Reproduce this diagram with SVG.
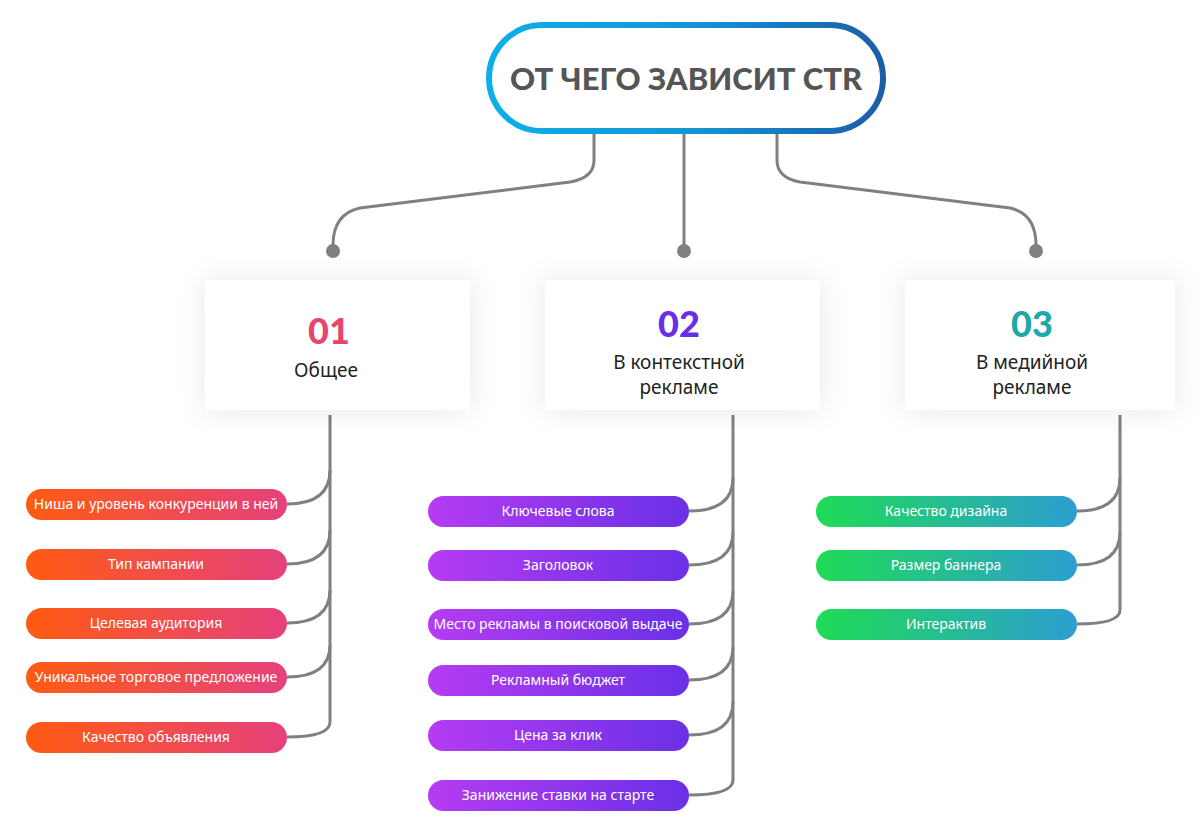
<svg xmlns="http://www.w3.org/2000/svg" width="1200" height="833" viewBox="0 0 1200 833">
<defs>
<linearGradient id="gTop" x1="0" y1="0" x2="1" y2="0"><stop offset="0" stop-color="#0BB0E6"/><stop offset="0.5" stop-color="#1596D6"/><stop offset="1" stop-color="#1B5EA8"/></linearGradient>
<linearGradient id="gO" x1="0" y1="0" x2="1" y2="0"><stop offset="0" stop-color="#FF5B12"/><stop offset="1" stop-color="#E5417D"/></linearGradient>
<linearGradient id="gP" x1="0" y1="0" x2="1" y2="0"><stop offset="0" stop-color="#B63CF2"/><stop offset="1" stop-color="#6A30E6"/></linearGradient>
<linearGradient id="gG" x1="0" y1="0" x2="1" y2="0"><stop offset="0" stop-color="#1FDB55"/><stop offset="1" stop-color="#2C9ED2"/></linearGradient>
<filter id="sh" x="-20%" y="-40%" width="140%" height="180%"><feDropShadow dx="0" dy="0" stdDeviation="14" flood-color="#000" flood-opacity="0.09"/></filter>
</defs>
<style>
.ln{fill:none;stroke:#808080;stroke-width:3}
.dot{fill:#808080}
.pt{font-family:"Noto Sans","Liberation Sans",sans-serif;font-size:14px;fill:#fff;text-anchor:middle}
.num{font-family:"Lato","Liberation Sans",sans-serif;font-size:36px;font-weight:900;text-anchor:middle}
.lab{font-family:"Noto Sans","Liberation Sans",sans-serif;font-size:19px;fill:#222;text-anchor:middle}
</style>
<rect width="1200" height="833" fill="#fff"/>
<g id="connectors">
<path class="ln" d="M594 133 V160 Q594 178 570 182 L360 208 Q333 214 333 245"/>
<path class="ln" d="M684 133 V245"/>
<path class="ln" d="M777 133 V160 Q777 178 800 182 L1010 208 Q1036 214 1036 245"/>
<circle class="dot" cx="333" cy="251" r="7"/><circle class="dot" cx="684" cy="251" r="7"/><circle class="dot" cx="1036" cy="251" r="7"/>
<path class="ln" d="M330 415 V722 Q330 737 287 737"/>
<path class="ln" d="M287 504 Q330 504 330 470"/>
<path class="ln" d="M287 564 Q330 564 330 530"/>
<path class="ln" d="M287 623 Q330 623 330 590"/>
<path class="ln" d="M287 677 Q330 677 330 645"/>
<path class="ln" d="M733 415 V780 Q733 795 689 795"/>
<path class="ln" d="M689 511 Q733 511 733 478"/>
<path class="ln" d="M689 565 Q733 565 733 532"/>
<path class="ln" d="M689 624 Q733 624 733 591"/>
<path class="ln" d="M689 680 Q733 680 733 647"/>
<path class="ln" d="M689 735 Q733 735 733 702"/>
<path class="ln" d="M1120 415 V610 Q1120 624 1077 624"/>
<path class="ln" d="M1077 511 Q1120 511 1120 478"/>
<path class="ln" d="M1077 565 Q1120 565 1120 532"/>
</g>
<g id="top"><rect x="489" y="25" width="394" height="106" rx="53" fill="#fff" stroke="url(#gTop)" stroke-width="6"/>
<text x="686" y="90" font-family="Lato,'Liberation Sans',sans-serif" font-weight="900" font-size="31" fill="#555" text-anchor="middle">ОТ ЧЕГО ЗАВИСИТ CTR</text></g>
<g id="card1"><rect x="205" y="280" width="265" height="130" fill="#fff" filter="url(#sh)"/><text class="num" x="329" y="344" fill="#E8456D">01</text><text class="lab" x="326" y="377">Общее</text></g>
<g id="card2"><rect x="545" y="280" width="275" height="130" fill="#fff" filter="url(#sh)"/><text class="num" x="679" y="337" fill="#6A2EE8">02</text><text class="lab" x="679" y="369">В контекстной</text><text class="lab" x="679" y="394">рекламе</text></g>
<g id="card3"><rect x="905" y="280" width="270" height="130" fill="#fff" filter="url(#sh)"/><text class="num" x="1032" y="337" fill="#1EA8A8">03</text><text class="lab" x="1032" y="369">В медийной</text><text class="lab" x="1032" y="394">рекламе</text></g>
<g id="o1"><rect x="26" y="489" width="261" height="31" rx="15.5" fill="url(#gO)"/><text class="pt" x="156" y="509">Ниша и уровень конкуренции в ней</text></g>
<g id="o2"><rect x="26" y="549" width="261" height="31" rx="15.5" fill="url(#gO)"/><text class="pt" x="156" y="569">Тип кампании</text></g>
<g id="o3"><rect x="26" y="608" width="261" height="31" rx="15.5" fill="url(#gO)"/><text class="pt" x="156" y="628">Целевая аудитория</text></g>
<g id="o4"><rect x="26" y="662" width="261" height="31" rx="15.5" fill="url(#gO)"/><text class="pt" x="156" y="682">Уникальное торговое предложение</text></g>
<g id="o5"><rect x="26" y="722" width="261" height="31" rx="15.5" fill="url(#gO)"/><text class="pt" x="156" y="742">Качество объявления</text></g>
<g id="p1"><rect x="428" y="496" width="261" height="31" rx="15.5" fill="url(#gP)"/><text class="pt" x="558" y="516">Ключевые слова</text></g>
<g id="p2"><rect x="428" y="550" width="261" height="31" rx="15.5" fill="url(#gP)"/><text class="pt" x="558" y="570">Заголовок</text></g>
<g id="p3"><rect x="428" y="609" width="261" height="31" rx="15.5" fill="url(#gP)"/><text class="pt" x="558" y="629">Место рекламы в поисковой выдаче</text></g>
<g id="p4"><rect x="428" y="665" width="261" height="31" rx="15.5" fill="url(#gP)"/><text class="pt" x="558" y="685">Рекламный бюджет</text></g>
<g id="p5"><rect x="428" y="720" width="261" height="31" rx="15.5" fill="url(#gP)"/><text class="pt" x="558" y="740">Цена за клик</text></g>
<g id="p6"><rect x="428" y="780" width="261" height="31" rx="15.5" fill="url(#gP)"/><text class="pt" x="558" y="800">Занижение ставки на старте</text></g>
<g id="g1"><rect x="816" y="496" width="261" height="31" rx="15.5" fill="url(#gG)"/><text class="pt" x="946" y="516">Качество дизайна</text></g>
<g id="g2"><rect x="816" y="550" width="261" height="31" rx="15.5" fill="url(#gG)"/><text class="pt" x="946" y="570">Размер баннера</text></g>
<g id="g3"><rect x="816" y="609" width="261" height="31" rx="15.5" fill="url(#gG)"/><text class="pt" x="946" y="629">Интерактив</text></g>
</svg>
